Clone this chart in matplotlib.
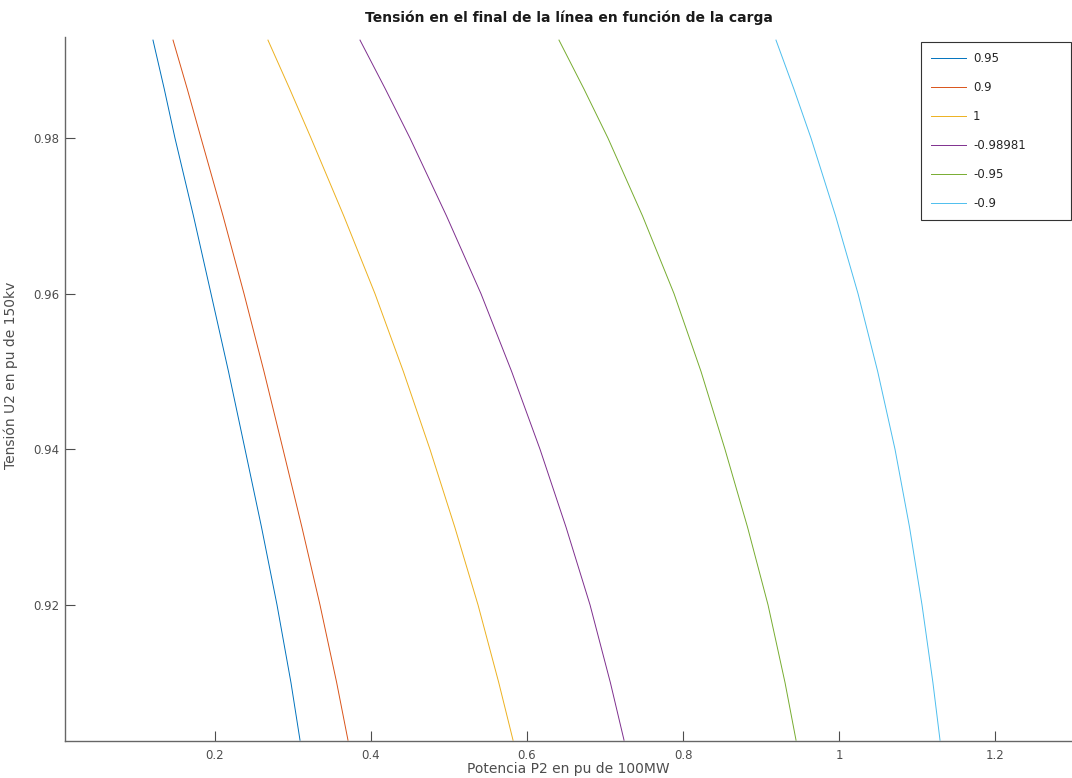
import numpy as np
from matplotlib import pyplot as plt

# tension U2 (pu) at which the curves were read
u2 = [0.9926, 0.9863, 0.98, 0.97, 0.96, 0.95, 0.94, 0.93, 0.92, 0.91, 0.9026]

# potencia P2 (pu) for each power factor
p_095 = [0.1205, 0.1350, 0.1487, 0.1724, 0.1949, 0.2173, 0.2385, 0.2596, 0.2795, 0.2974, 0.3090]
p_09 = [0.1462, 0.1645, 0.1821, 0.2103, 0.2372, 0.2628, 0.2872, 0.3114, 0.3346, 0.3560, 0.3705]
p_1 = [0.2679, 0.2959, 0.3231, 0.3651, 0.4051, 0.4415, 0.4756, 0.5074, 0.5372, 0.5638, 0.5821]
p_m098981 = [0.3859, 0.4185, 0.4500, 0.4968, 0.5410, 0.5803, 0.6167, 0.6500, 0.6808, 0.7069, 0.7244]
p_m095 = [0.6410, 0.6731, 0.7038, 0.7481, 0.7885, 0.8231, 0.8538, 0.8827, 0.9090, 0.9308, 0.9449]
p_m09 = [0.9192, 0.9422, 0.9641, 0.9956, 1.0244, 1.0496, 1.0718, 1.0904, 1.1064, 1.1204, 1.1295]

labels = ["0.95", "0.9", "1", "-0.98981", "-0.95", "-0.9"]
series = [p_095, p_09, p_1, p_m098981, p_m095, p_m09]
colors = ["#0072BD", "#D95319", "#EDB120", "#7E2F8E", "#77AC30", "#4DBEEE"]

plt.rcParams['font.family'] = ['DejaVu Sans']

fig = plt.figure(figsize=(10.72, 7.78), dpi=100)
ax = fig.add_axes([65/1072, 1 - 741/778, 1007/1072, 704/778])

for p, lab, c in zip(series, labels, colors):
    ax.plot(p, u2, color=c, linewidth=0.7, label=lab)

ax.set_xlim(0.0077, 1.2987)
ax.set_ylim(0.9025, 0.9930)
ax.set_xticks([0.2, 0.4, 0.6, 0.8, 1.0, 1.2])
ax.set_xticklabels(["0.2", "0.4", "0.6", "0.8", "1", "1.2"])
ax.set_yticks([0.92, 0.94, 0.96, 0.98])
ax.set_yticklabels(["0.92", "0.94", "0.96", "0.98"])

gray = "#4d4d4d"
ax.tick_params(direction='in', length=7, width=0.8, colors=gray, labelsize=8.5)
ax.tick_params(axis='x', pad=6)
ax.tick_params(axis='y', pad=4)
for s in ['top', 'right']:
    ax.spines[s].set_visible(False)
for s in ['left', 'bottom']:
    ax.spines[s].set_color("#666666")
    ax.spines[s].set_linewidth(1.0)

ax.set_title("Tensión en el final de la línea en función de la carga",
             fontsize=10, fontweight='bold', color="#1a1a1a", pad=11)
ax.set_xlabel("Potencia P2 en pu de 100MW", fontsize=10, color=gray, labelpad=0)
ax.set_ylabel("Tensión U2 en pu de 150kv", fontsize=10, color=gray)
ax.yaxis.set_label_coords(-0.047, 0.52)

leg = ax.legend(loc='upper left', bbox_to_anchor=(0.850, 0.9929, 0.149, 0.0),
                mode='expand', borderaxespad=0, fontsize=8.5, handlelength=3.0,
                handletextpad=0.55, labelspacing=1.35, borderpad=0.85,
                fancybox=False, framealpha=1)
leg.get_frame().set_edgecolor("#333333")
leg.get_frame().set_linewidth(0.8)
for t in leg.get_texts():
    t.set_color("#262626")

plt.savefig("out.png", dpi=100)
